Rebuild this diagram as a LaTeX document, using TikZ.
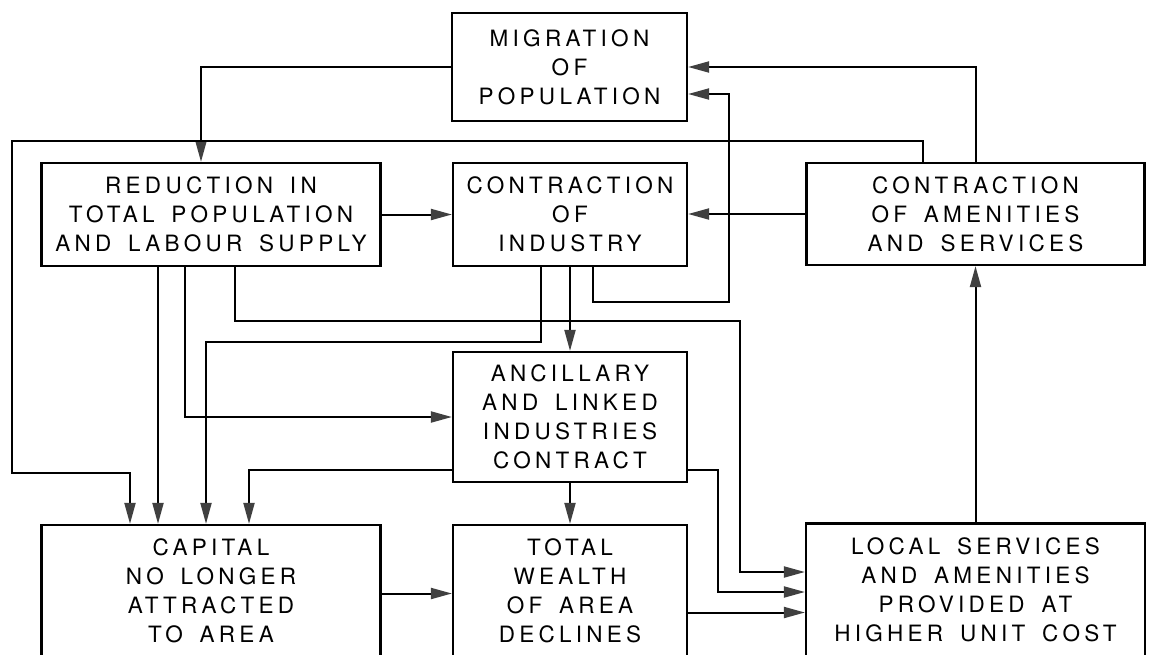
\documentclass[tikz,border=0pt]{standalone}
\usepackage{fontspec}
\usetikzlibrary{arrows.meta}
\newfontfamily\boxfont[LetterSpace=19,WordSpace=1.6]{TeX Gyre Heros}
\definecolor{tipgray}{gray}{0.25}
\tikzset{
  stage/.style={draw, line width=2.2pt, align=center, inner sep=0pt,
    font=\boxfont\fontsize{22.5pt}{29pt}\selectfont},
  flow/.style={line width=2pt, -{Triangle[length=21pt,width=11pt,color=tipgray]}},
  link/.style={line width=2pt}
}
\begin{document}
\begin{tikzpicture}[x=1pt,y=-1pt] % one unit = one pixel of the page, y downwards
  \useasboundingbox (0,0) rectangle (1152,654);
  % the eight stages
  \node[stage, minimum width=235pt, minimum height=108pt] (mig) at (569.5,67) {MIGRATION\\OF\\POPULATION};
  \node[stage, minimum width=339pt, minimum height=103pt] (red) at (211,214.5) {REDUCTION IN\\TOTAL POPULATION\\AND LABOUR SUPPLY};
  \node[stage, minimum width=234pt, minimum height=103pt] (ind) at (570,214.5) {CONTRACTION\\OF\\INDUSTRY};
  \node[stage, minimum width=338pt, minimum height=102pt] (ame) at (975.5,214) {CONTRACTION\\OF AMENITIES\\AND SERVICES};
  \node[stage, minimum width=234pt, minimum height=130pt] (anc) at (570,417) {ANCILLARY\\AND LINKED\\INDUSTRIES\\CONTRACT};
  \node[stage, minimum width=339pt, minimum height=131pt] (cap) at (211,590.5) {CAPITAL\\NO LONGER\\ATTRACTED\\TO AREA};
  \node[stage, minimum width=234pt, minimum height=131pt] (wea) at (570,590.5) {TOTAL\\WEALTH\\OF AREA\\DECLINES};
  \node[stage, minimum width=339pt, minimum height=133pt] (loc) at (975.5,590) {LOCAL SERVICES\\AND AMENITIES\\PROVIDED AT\\HIGHER UNIT COST};

  % links
  \draw[flow] (mig.west) -| ([xshift=-10pt]red.north);
  \draw[flow] ([xshift=-53pt]ame.north) -- ++(0,-21) -| (12,473) -| ([xshift=-81pt]cap.north);
  \draw[flow] (red.east) -- (red.east -| ind.west);
  \draw[flow] (ame.west) -- (ame.west -| ind.east);
  \draw[flow] (ame.north) |- (mig.east);
  \draw[flow] ([xshift=23pt]ind.south) -- ++(0,35) -| (729,94) -- ([yshift=-27pt]mig.east);
  \draw[flow] ([xshift=-29pt]ind.south) |- (206,342) -- ([xshift=-5pt]cap.north);
  \draw[flow] (ind.south) -- (anc.north);
  \draw[flow] ([xshift=-53pt]red.south) -- ([xshift=-53pt]cap.north);
  \draw[flow] ([xshift=-26pt]red.south) |- (anc.west);
  \draw[flow] ([xshift=24pt]red.south) |- (740,321) |- ([yshift=18pt]loc.west);
  \draw[flow] ([yshift=-53pt]anc.east) -- ++(30,0) |- ([yshift=-2pt]loc.west);
  \draw[flow] ([yshift=-53pt]anc.west) -| ([xshift=38pt]cap.north);
  \draw[flow] (anc.south) -- (wea.north);
  \draw[flow] ([yshift=-3pt]cap.east) -- ([yshift=-3pt]cap.east -| wea.west);
  \draw[flow] ([yshift=-22pt]wea.east) -- ([yshift=-22pt]wea.east -| loc.west);
  \draw[flow] (loc.north) -- (ame.south);
\end{tikzpicture}
\end{document}
